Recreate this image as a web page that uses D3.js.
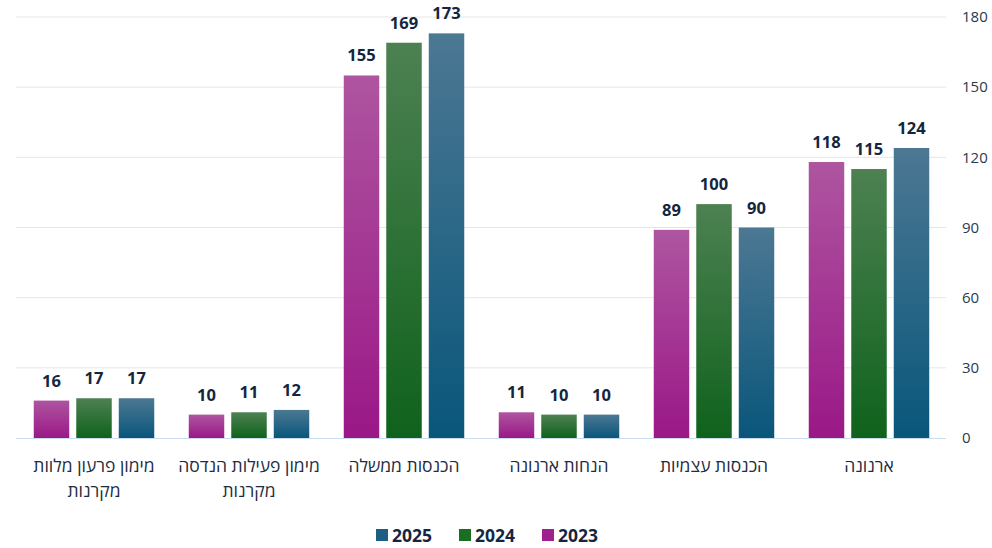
<!DOCTYPE html>
<html><head><meta charset="utf-8">
<script src="https://cdn.jsdelivr.net/npm/d3@7"></script>
<style>
html,body{margin:0;padding:0;background:#fff;}
svg{display:block;font-family:"Open Sans","Liberation Sans",sans-serif;}
</style></head>
<body><svg id="c" width="992" height="548"></svg>
<script>
const categories = ["מימון פרעון מלוות מקרנות","מימון פעילות הנדסה מקרנות","הכנסות ממשלה","הנחות ארנונה","הכנסות עצמיות","ארנונה"];
const categoryLines = [["מימון פרעון מלוות","מקרנות"],["מימון פעילות הנדסה","מקרנות"],["הכנסות ממשלה"],["הנחות ארנונה"],["הכנסות עצמיות"],["ארנונה"]];
const seriesNames = ["2023","2024","2025"];
const values2023 = [16,10,155,11,89,118];
const values2024 = [17,11,169,10,100,115];
const values2025 = [17,12,173,10,90,124];
const yTicks = [0,30,60,90,120,150,180];
const seriesValues = [values2023, values2024, values2025];
const gradTop = ["#ae55a0","#4d8152","#4c7893"];
const gradBot = ["#9a1887","#0f621c","#09567b"];
const legendColors = ["#a0208f","#1a6e24","#1c5f82"];

const svg = d3.select("#c");
const x0 = d3.scaleBand().domain(d3.range(categories.length)).range([16.5,946.5]).paddingInner(0).paddingOuter(0);
const x1 = d3.scaleBand().domain(d3.range(3)).range([0,x0.bandwidth()]).paddingInner(0.165).paddingOuter(0.406);
const y = d3.scaleLinear().domain([0,180]).range([438,17]);

const defs = svg.append("defs");
seriesNames.forEach((s,i)=>{
  const g = defs.append("linearGradient").attr("id","g"+i).attr("x1",0).attr("y1",0).attr("x2",0).attr("y2",1).attr("gradientUnits","objectBoundingBox");
  g.append("stop").attr("offset","0%").attr("stop-color",gradTop[i]);
  g.append("stop").attr("offset","100%").attr("stop-color",gradBot[i]);
});

// grid
svg.append("g").selectAll("line").data(yTicks.filter(t=>t>0)).join("line")
  .attr("x1",16).attr("x2",946).attr("y1",d=>y(d)).attr("y2",d=>y(d))
  .attr("stroke","#e6e6e6").attr("stroke-width",1);

// y axis labels
const yAxis = d3.axisRight(y).tickValues(yTicks).tickSize(0).tickPadding(0);
const ya = svg.append("g").attr("transform","translate(962,0)").call(yAxis);
ya.select(".domain").remove();
ya.selectAll("text").attr("font-size",15).attr("fill","#2a3a4f").attr("font-family","'Open Sans',sans-serif");

// bars
const groups = svg.append("g").selectAll("g").data(categories).join("g")
  .attr("transform",(d,i)=>`translate(${x0(i)},0)`);
groups.each(function(c,ci){
  const g = d3.select(this);
  seriesValues.forEach((vals,si)=>{
    const v = vals[ci];
    g.append("rect").attr("x",x1(si)).attr("width",x1.bandwidth())
      .attr("y",y(v)).attr("height",y(0)-y(v)).attr("fill",`url(#g${si})`);
    g.append("text").attr("x",x1(si)+x1.bandwidth()/2).attr("y",y(v)-14)
      .attr("text-anchor","middle").attr("font-size",16.5).attr("font-weight","bold")
      .attr("fill","#14263f").text(v);
  });
  const t = g.append("text").attr("text-anchor","middle").attr("font-size",17.5).attr("fill","#1e2d42").attr("direction","rtl");
  categoryLines[ci].forEach((ln,li)=>{
    t.append("tspan").attr("x",x0.bandwidth()/2).attr("y",472+li*25).text(ln);
  });
});

// baseline
svg.append("line").attr("x1",16).attr("x2",946).attr("y1",438.5).attr("y2",438.5).attr("stroke","#c9dcf0").attr("stroke-width",1);

// legend (RTL order: 2025, 2024, 2023 left to right)
const legendOrder = [2,1,0];
const lg = svg.append("g");
legendOrder.forEach((si,k)=>{
  const lx = 376 + k*83;
  lg.append("rect").attr("x",lx).attr("y",529).attr("width",12).attr("height",12).attr("fill",legendColors[si]);
  lg.append("text").attr("x",lx+16).attr("y",542).attr("font-size",17.5).attr("font-weight","bold").attr("fill","#14263f").text(seriesNames[si]);
});
</script></body></html>
